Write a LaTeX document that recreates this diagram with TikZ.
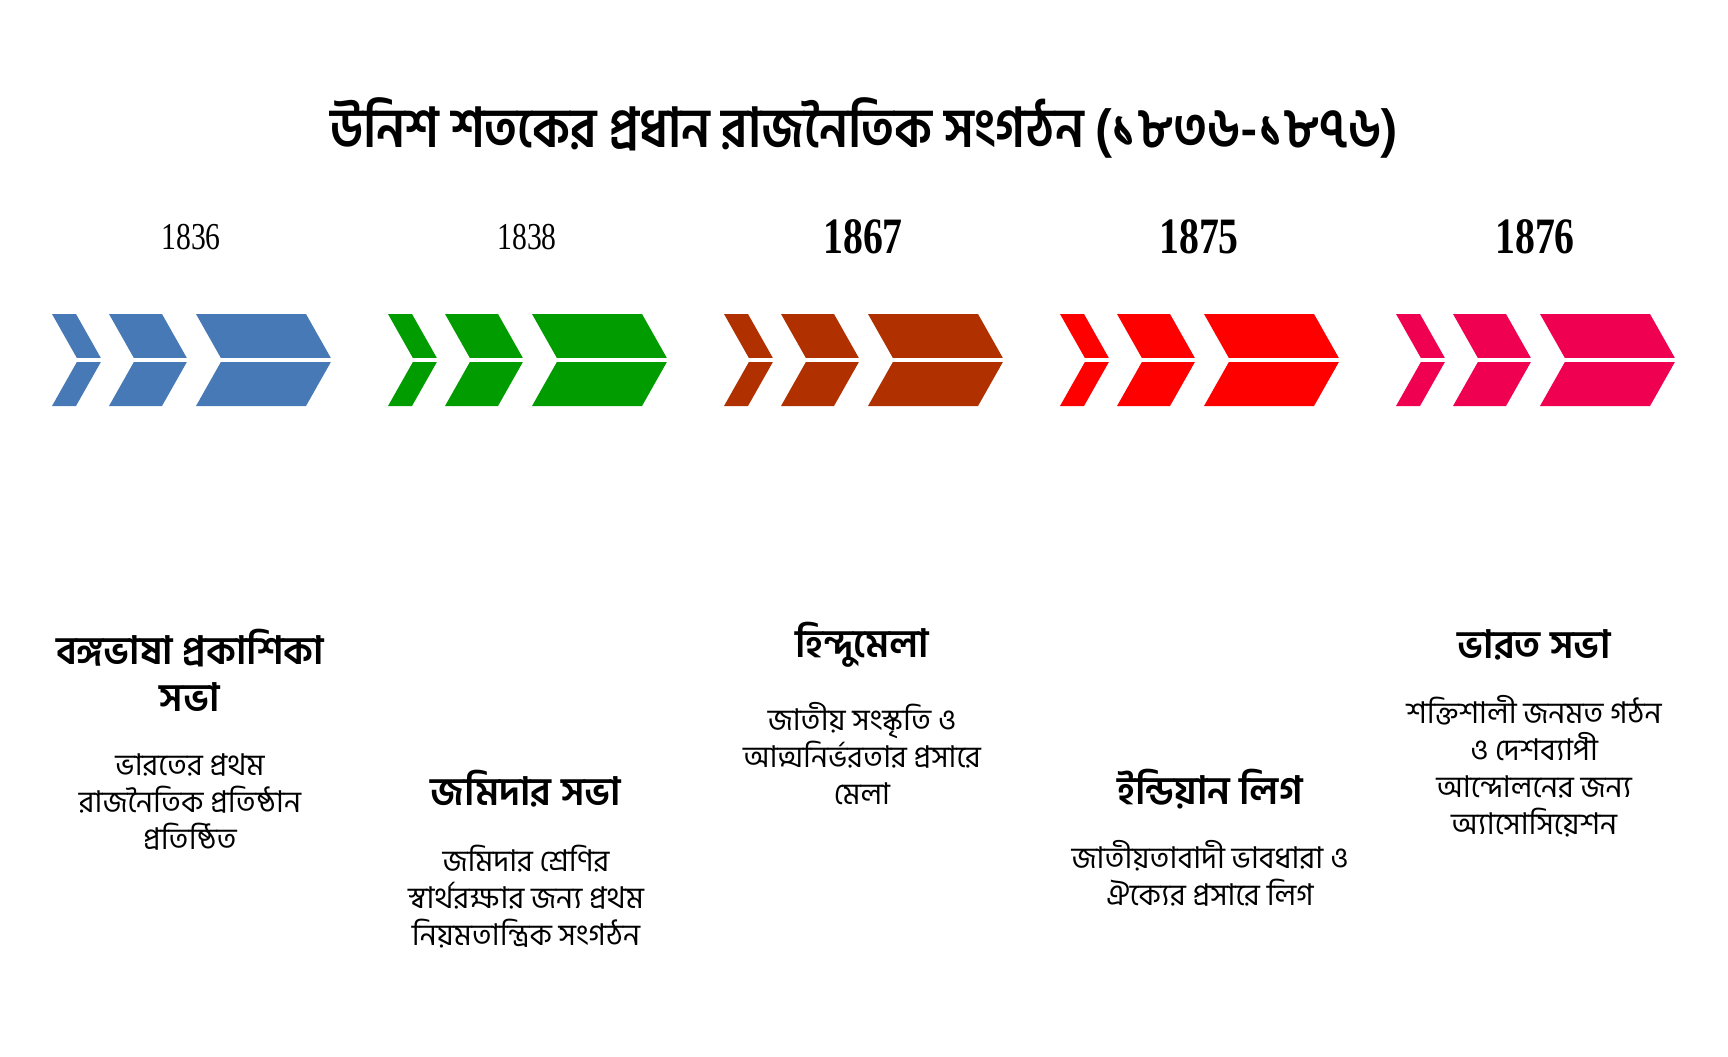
\documentclass[tikz,border=0pt]{standalone}
\usepackage{fontspec}
\newfontfamily\bn[Script=Bengali]{Hind Siliguri}
\newfontfamily\bntitle[Script=Bengali,FakeStretch=0.9]{Hind Siliguri}
\newfontfamily\yr[FakeStretch=0.78]{Liberation Serif}
\definecolor{cA}{HTML}{4679B5}
\definecolor{cB}{HTML}{009C00}
\definecolor{cC}{HTML}{B03000}
\definecolor{cD}{HTML}{FF0000}
\definecolor{cE}{HTML}{F00050}
\tikzset{
  titletext/.style={font={\bntitle\bfseries\fontsize{27.5}{33}\selectfont}, inner sep=0pt},
  yearreg/.style={font={\yr\fontsize{19}{22}\selectfont}, inner sep=0pt},
  yearbold/.style={font={\yr\bfseries\fontsize{25.5}{28}\selectfont}, inner sep=0pt},
  headtext/.style={font={\bn\bfseries\fontsize{19.5}{23.5}\selectfont}, align=center, inner sep=0pt},
  desctext/.style={font={\bn\fontsize{15}{18.5}\selectfont}, align=center, inner sep=0pt},
  gapline/.style={draw=white, line width=2.2pt},
}
\newcommand{\chev}[3]{% x0, width, colour
  \fill[#3] (#1,314) -- ++(#2,0) -- ++(26,46) -- ++(-26,46) -- ++(-#2,0) -- ++(26,-46) -- cycle;
  \draw[gapline] (#1+20,360) -- ++(#2+10,0);
}
\begin{document}
\begin{tikzpicture}[x=0.5pt,y=-0.5pt]
\useasboundingbox (0,0) rectangle (1728,1056);
\node[titletext] (title) at (864,128) {উনিশ শতকের প্রধান রাজনৈতিক সংগঠন (১৮৩৬-১৮৭৬)};
\foreach \g/\c in {0/cA,1/cB,2/cC,3/cD,4/cE}{
  \pgfmathsetmacro{\o}{336*\g}
  \chev{52+\o}{24}{\c}
  \chev{109+\o}{53}{\c}
  \chev{196+\o}{110}{\c}
}
\node[yearreg] (y1) at (191,237) {1836};
\node[yearreg] (y2) at (527,237) {1838};
\node[yearbold] (y3) at (863,237) {1867};
\node[yearbold] (y4) at (1199,237) {1875};
\node[yearbold] (y5) at (1535,237) {1876};
\node[headtext] (h1) at (190,670) {বঙ্গভাষা প্রকাশিকা\\সভা};
\node[desctext] (d1) at (190,802) {ভারতের প্রথম\\রাজনৈতিক প্রতিষ্ঠান\\প্রতিষ্ঠিত};
\node[headtext] (h2) at (526,789) {জমিদার সভা};
\node[desctext] (d2) at (526,897) {জমিদার শ্রেণির\\স্বার্থরক্ষার জন্য প্রথম\\নিয়মতান্ত্রিক সংগঠন};
\node[headtext] (h3) at (862,645) {হিন্দুমেলা};
\node[desctext] (d3) at (862,754) {জাতীয় সংস্কৃতি ও\\আত্মনির্ভরতার প্রসারে\\মেলা};
\node[headtext] (h4) at (1210,789) {ইন্ডিয়ান লিগ};
\node[desctext] (d4) at (1210,873) {জাতীয়তাবাদী ভাবধারা ও\\ঐক্যের প্রসারে লিগ};
\node[headtext] (h5) at (1534,645) {ভারত সভা};
\node[desctext] (d5) at (1534,766) {শক্তিশালী জনমত গঠন\\ও দেশব্যাপী\\আন্দোলনের জন্য\\অ্যাসোসিয়েশন};
\end{tikzpicture}
\end{document}
